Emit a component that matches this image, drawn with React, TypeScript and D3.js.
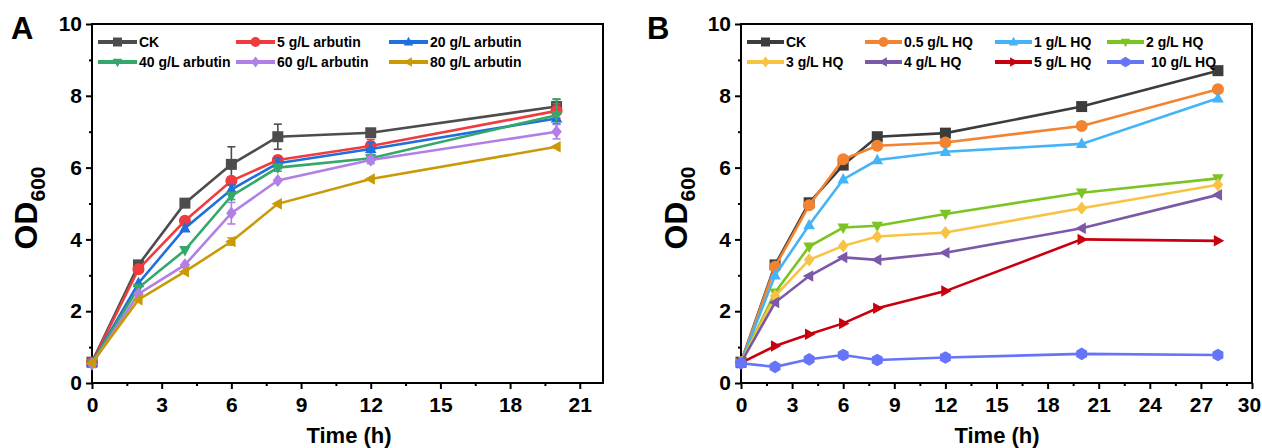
import React, { useEffect, useRef } from 'react';
import * as d3 from 'd3';

// ---- panel A: arbutin ----
const timesA = [0, 2, 4, 6, 8, 12, 20];
const ckA = [0.58, 3.29, 5.01, 6.09, 6.86, 6.97, 7.7];
const ckAErr = [0.05, 0.05, 0.08, 0.49, 0.35, 0.08, 0.2];
const arb5 = [0.57, 3.17, 4.52, 5.63, 6.21, 6.6, 7.58];
const arb5Err = [0.05, 0.08, 0.08, 0.1, 0.1, 0.18, 0.2];
const arb20 = [0.56, 2.78, 4.31, 5.39, 6.12, 6.52, 7.37];
const arb20Err = [0.05, 0.08, 0.08, 0.12, 0.15, 0.18, 0.15];
const arb40 = [0.56, 2.65, 3.7, 5.21, 6.0, 6.26, 7.46];
const arb40Err = [0.05, 0.08, 0.08, 0.1, 0.1, 0.1, 0.45];
const arb60 = [0.53, 2.48, 3.29, 4.73, 5.64, 6.21, 7.0];
const arb60Err = [0.05, 0.05, 0.06, 0.3, 0.08, 0.1, 0.2];
const arb80 = [0.56, 2.32, 3.1, 3.94, 4.99, 5.68, 6.58];
const arb80Err = [0.05, 0.05, 0.05, 0.1, 0.05, 0.05, 0.06];
const labelsA = ['CK', '5 g/L arbutin', '20 g/L arbutin', '40 g/L arbutin', '60 g/L arbutin', '80 g/L arbutin'];

// ---- panel B: HQ ----
const timesB = [0, 2, 4, 6, 8, 12, 20, 28];
const ckB = [0.58, 3.29, 5.02, 6.07, 6.86, 6.96, 7.7, 8.7];
const hq05 = [0.57, 3.24, 4.95, 6.23, 6.61, 6.7, 7.16, 8.18];
const hq1 = [0.57, 3.0, 4.4, 5.67, 6.21, 6.44, 6.66, 7.93];
const hq2 = [0.57, 2.52, 3.8, 4.33, 4.38, 4.71, 5.3, 5.7];
const hq3 = [0.57, 2.42, 3.43, 3.82, 4.08, 4.19, 4.87, 5.52];
const hq4 = [0.57, 2.24, 2.98, 3.5, 3.43, 3.63, 4.31, 5.24];
const hq5 = [0.56, 1.03, 1.36, 1.66, 2.08, 2.56, 4.0, 3.96];
const hq10 = [0.55, 0.45, 0.66, 0.78, 0.64, 0.71, 0.81, 0.78];
const labelsB = ['CK', '0.5 g/L HQ', '1 g/L HQ', '2 g/L HQ', '3 g/L HQ', '4 g/L HQ', '5 g/L HQ', '10 g/L HQ'];

const yTicks = [0, 2, 4, 6, 8, 10];
const xTicksA = [0, 3, 6, 9, 12, 15, 18, 21];
const xTicksB = [0, 3, 6, 9, 12, 15, 18, 21, 24, 27, 30];

const FONT = '"Liberation Sans", Arial, sans-serif';

function markerPath(shape, r) {
    switch (shape) {
        case 'square': return `M${-r},${-r}H${r}V${r}H${-r}Z`;
        case 'circle': return d3.symbol(d3.symbolCircle, Math.PI * r * r * 1.2)();
        case 'up': return `M0,${-r * 1.15}L${r * 1.05},${r * 0.75}L${-r * 1.05},${r * 0.75}Z`;
        case 'down': return `M0,${r * 1.15}L${r * 1.05},${-r * 0.75}L${-r * 1.05},${-r * 0.75}Z`;
        case 'left': return `M${-r * 1.15},0L${r * 0.75},${-r * 1.05}L${r * 0.75},${r * 1.05}Z`;
        case 'right': return `M${r * 1.15},0L${-r * 0.75},${-r * 1.05}L${-r * 0.75},${r * 1.05}Z`;
        case 'diamond': return `M0,${-r * 1.2}L${r * 0.95},0L0,${r * 1.2}L${-r * 0.95},0Z`;
        case 'hexagon': {
            const pts = d3.range(6).map(i => {
                const a = Math.PI / 6 + i * Math.PI / 3;
                return [Math.cos(a) * r * 1.15, Math.sin(a) * r * 1.15];
            });
            return 'M' + pts.map(p => p.join(',')).join('L') + 'Z';
        }
        default: return '';
    }
}

function drawPanel(svg, cfg) {
    const { left, right, top, bottom, xMax, xTicks, xMinorStep, series, times, legend, letter, letterX, odX, timeX } = cfg;
    const x = d3.scaleLinear().domain([0, xMax]).range([left, right]);
    const y = d3.scaleLinear().domain([0, 10]).range([bottom, top]);
    const g = svg.append('g');

    // minor ticks
    g.append('g')
        .attr('transform', `translate(0,${bottom})`)
        .call(d3.axisBottom(x).tickValues(d3.range(xMinorStep, xMax, xMinorStep * 2)).tickSize(3).tickFormat(() => ''))
        .call(a => a.select('.domain').remove())
        .selectAll('line').attr('stroke-width', 2);
    g.append('g')
        .attr('transform', `translate(${left},0)`)
        .call(d3.axisLeft(y).tickValues([1, 3, 5, 7, 9]).tickSize(3).tickFormat(() => ''))
        .call(a => a.select('.domain').remove())
        .selectAll('line').attr('stroke-width', 2);

    // major ticks
    const xa = g.append('g')
        .attr('transform', `translate(0,${bottom})`)
        .call(d3.axisBottom(x).tickValues(xTicks).tickSize(6).tickPadding(8));
    xa.select('.domain').remove();
    xa.selectAll('line').attr('stroke-width', 2);
    xa.selectAll('text').style('font-family', FONT).style('font-size', '21px').style('font-weight', 'bold').attr('fill', '#000');
    // keep the last label inside the page edge
    xa.selectAll('text').filter(d => x(d) + 12 > 1262).attr('dx', -3);

    const ya = g.append('g')
        .attr('transform', `translate(${left},0)`)
        .call(d3.axisLeft(y).tickValues(yTicks).tickSize(6).tickPadding(4));
    ya.select('.domain').remove();
    ya.selectAll('line').attr('stroke-width', 2);
    ya.selectAll('text').style('font-family', FONT).style('font-size', '21px').style('font-weight', 'bold').attr('fill', '#000');

    // frame
    g.append('rect')
        .attr('x', left).attr('y', top)
        .attr('width', right - left).attr('height', bottom - top)
        .attr('fill', 'none').attr('stroke', '#000').attr('stroke-width', 2);

    // series
    const line = d3.line().x(d => x(d[0])).y(d => y(d[1]));
    series.forEach(s => {
        const pts = times.map((t, i) => [t, s.values[i], s.errors ? s.errors[i] : 0]);
        g.append('path')
            .datum(pts)
            .attr('fill', 'none')
            .attr('stroke', s.color)
            .attr('stroke-width', 2.6)
            .attr('d', line);
        if (s.errors) {
            const eb = g.append('g').attr('stroke', s.color).attr('stroke-width', 1.6);
            pts.forEach(p => {
                if (p[2] < 0.1) return;
                eb.append('line').attr('x1', x(p[0])).attr('x2', x(p[0])).attr('y1', y(p[1] - p[2])).attr('y2', y(p[1] + p[2]));
                eb.append('line').attr('x1', x(p[0]) - 4).attr('x2', x(p[0]) + 4).attr('y1', y(p[1] + p[2])).attr('y2', y(p[1] + p[2]));
                eb.append('line').attr('x1', x(p[0]) - 4).attr('x2', x(p[0]) + 4).attr('y1', y(p[1] - p[2])).attr('y2', y(p[1] - p[2]));
            });
        }
        g.selectAll(null)
            .data(pts)
            .enter()
            .append('path')
            .attr('transform', d => `translate(${x(d[0])},${y(d[1])})`)
            .attr('d', markerPath(s.shape, 5.5))
            .attr('fill', s.color);
    });

    // legend
    series.forEach((s, i) => {
        const col = i % legend.cols.length;
        const row = Math.floor(i / legend.cols.length);
        const lx = legend.cols[col];
        const ly = legend.rows[row];
        const lg = g.append('g');
        lg.append('line')
            .attr('x1', lx).attr('x2', lx + legend.len)
            .attr('y1', ly).attr('y2', ly)
            .attr('stroke', s.color).attr('stroke-width', 4);
        lg.append('path')
            .attr('transform', `translate(${lx + legend.len / 2},${ly})`)
            .attr('d', markerPath(s.shape, 4.5))
            .attr('fill', s.color);
        lg.append('text')
            .attr('x', lx + legend.len + 2 + (s.dx || 0))
            .attr('y', ly + 5)
            .style('font-family', FONT).style('font-size', '14px').style('font-weight', 'bold')
            .text(s.label);
    });

    // panel letter
    g.append('text')
        .attr('x', letterX).attr('y', 39)
        .style('font-family', FONT).style('font-size', '31px').style('font-weight', 'bold')
        .text(letter);

    // y label
    const yl = g.append('text')
        .attr('transform', `translate(${odX},208) rotate(-90)`)
        .attr('text-anchor', 'middle')
        .style('font-family', FONT).style('font-weight', 'bold');
    yl.append('tspan').style('font-size', '32px').text('OD');
    yl.append('tspan').style('font-size', '21px').attr('dy', 8).text('600');

    // x label
    g.append('text')
        .attr('x', timeX).attr('y', 443)
        .attr('text-anchor', 'middle')
        .style('font-family', FONT).style('font-size', '22px').style('font-weight', 'bold')
        .text('Time (h)');
}

export default function App() {
    const ref = useRef(null);

    useEffect(() => {
        if (!ref.current) return;
        const svg = d3.select(ref.current);
        svg.selectAll('*').remove();

        const seriesA = [
            { label: labelsA[0], color: '#4d4d4d', shape: 'square', values: ckA, errors: ckAErr },
            { label: labelsA[1], color: '#f03c3f', shape: 'circle', values: arb5, errors: arb5Err },
            { label: labelsA[2], color: '#1f6fdc', shape: 'up', values: arb20, errors: arb20Err },
            { label: labelsA[3], color: '#33a86a', shape: 'down', values: arb40, errors: arb40Err },
            { label: labelsA[4], color: '#b27fe6', shape: 'diamond', values: arb60, errors: arb60Err },
            { label: labelsA[5], color: '#c99a06', shape: 'left', values: arb80, errors: arb80Err }
        ];
        const seriesB = [
            { label: labelsB[0], color: '#3c3c3c', shape: 'square', values: ckB },
            { label: labelsB[1], color: '#f28330', shape: 'circle', values: hq05 },
            { label: labelsB[2], color: '#45b3f7', shape: 'up', values: hq1 },
            { label: labelsB[3], color: '#7cc424', shape: 'down', values: hq2 },
            { label: labelsB[4], color: '#f8c343', shape: 'diamond', values: hq3 },
            { label: labelsB[5], color: '#7b58a8', shape: 'left', values: hq4 },
            { label: labelsB[6], color: '#c8000e', shape: 'right', values: hq5 },
            { label: labelsB[7], color: '#6674fa', shape: 'hexagon', values: hq10, dx: 5 }
        ];

        drawPanel(svg, {
            left: 92, right: 603, top: 24, bottom: 383, xMax: 22, xTicks: xTicksA, xMinorStep: 1.5,
            series: seriesA, times: timesA,
            legend: { cols: [98, 236, 389], rows: [42, 62], len: 39 },
            letter: 'A', letterX: 11, odX: 37, timeX: 349
        });
        drawPanel(svg, {
            left: 741, right: 1252, top: 24, bottom: 383, xMax: 30, xTicks: xTicksB, xMinorStep: 1.5,
            series: seriesB, times: timesB,
            legend: { cols: [747, 865, 995, 1107], rows: [42, 62], len: 37 },
            letter: 'B', letterX: 647, odX: 687, timeX: 997
        });
    }, []);

    return (
        <div style={{ position: 'absolute', left: 0, top: 0, background: '#fff' }}>
            <svg ref={ref} width={1262} height={448} style={{ display: 'block' }}></svg>
        </div>
    );
}
